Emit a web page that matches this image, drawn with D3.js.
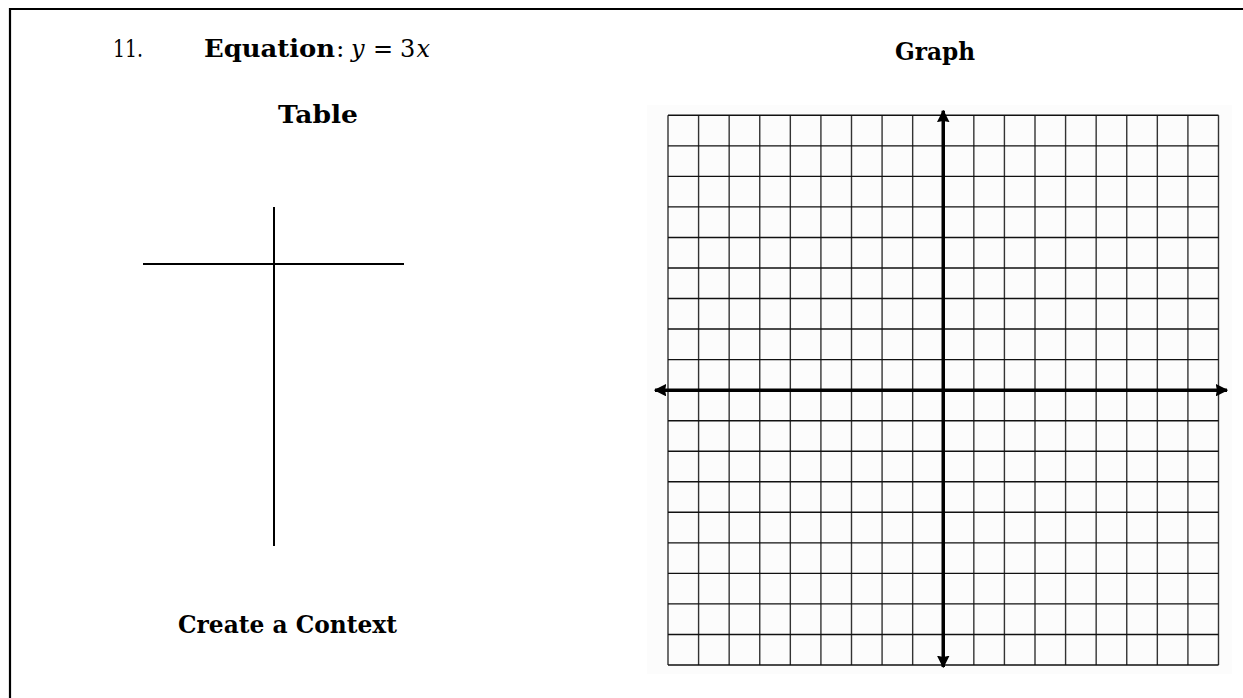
<!DOCTYPE html>
<html>
<head>
<meta charset="utf-8">
<script src="https://cdn.jsdelivr.net/npm/d3@7"></script>
<style>
  html, body { margin: 0; padding: 0; background: #fff; }
  svg { display: block; }
</style>
</head>
<body>
<svg id="chart" width="1243" height="698"></svg>
<script>
// ---- data ----
const problemNumber = "11.";
const headingEquation = "Equation";
const equationParts = [
  { t: "y", italic: true,  x: 351 },
  { t: "=", italic: false, x: 373 },
  { t: "3", italic: false, x: 400 },
  { t: "x", italic: true,  x: 416.5 }
];
const headingTable = "Table";
const headingGraph = "Graph";
const headingContext = "Create a Context";
const gridTicks = d3.range(-9, 10);      // grid lines from -9 to 9
const axisDomain = [-9, 9];

const svg = d3.select("#chart");
const serif = "'DejaVu Serif', 'Liberation Serif', serif";

// page frame (left + top rule)
svg.append("line").attr("x1", 10).attr("y1", 9).attr("x2", 1243).attr("y2", 9)
  .attr("stroke", "#000").attr("stroke-width", 2.2);
svg.append("line").attr("x1", 10).attr("y1", 8).attr("x2", 10).attr("y2", 698)
  .attr("stroke", "#000").attr("stroke-width", 2.2);

// ---- heading texts ----
svg.append("text").attr("x", 113).attr("y", 57)
  .attr("font-family", serif).attr("font-size", 25)
  .attr("textLength", 30).attr("lengthAdjust", "spacingAndGlyphs")
  .text(problemNumber);

svg.append("text").attr("x", 204).attr("y", 57)
  .attr("font-family", serif).attr("font-size", 25).attr("font-weight", "bold")
  .attr("textLength", 131).attr("lengthAdjust", "spacingAndGlyphs")
  .text(headingEquation);
svg.append("text").attr("x", 336).attr("y", 57)
  .attr("font-family", serif).attr("font-size", 25)
  .text(":");

svg.selectAll("text.eq").data(equationParts).join("text").attr("class", "eq")
  .attr("x", d => d.x).attr("y", 57)
  .attr("font-family", serif).attr("font-size", 24)
  .attr("font-style", d => d.italic ? "italic" : "normal")
  .text(d => d.t);

svg.append("text").attr("x", 278).attr("y", 123)
  .attr("font-family", serif).attr("font-size", 25).attr("font-weight", "bold")
  .attr("textLength", 80).attr("lengthAdjust", "spacingAndGlyphs")
  .text(headingTable);

svg.append("text").attr("x", 895).attr("y", 60)
  .attr("font-family", serif).attr("font-size", 25).attr("font-weight", "bold")
  .attr("textLength", 80).attr("lengthAdjust", "spacingAndGlyphs")
  .text(headingGraph);

svg.append("text").attr("x", 178).attr("y", 633)
  .attr("font-family", serif).attr("font-size", 25).attr("font-weight", "bold")
  .attr("textLength", 219).attr("lengthAdjust", "spacingAndGlyphs")
  .text(headingContext);

// ---- T-table ----
svg.append("line").attr("x1", 274).attr("y1", 207).attr("x2", 274).attr("y2", 546)
  .attr("stroke", "#000").attr("stroke-width", 2);
svg.append("line").attr("x1", 143).attr("y1", 264).attr("x2", 404).attr("y2", 264)
  .attr("stroke", "#000").attr("stroke-width", 2);

// ---- coordinate grid ----
const x = d3.scaleLinear().domain(axisDomain).range([668, 1218.5]);
const y = d3.scaleLinear().domain(axisDomain).range([665, 115.3]);

svg.append("rect").attr("x", 647).attr("y", 105).attr("width", 585).attr("height", 569)
  .attr("fill", "#fcfcfc");

const g = svg.append("g");
g.selectAll("line.v").data(gridTicks).join("line").attr("class", "v")
  .attr("x1", d => x(d)).attr("x2", d => x(d))
  .attr("y1", y(axisDomain[1])).attr("y2", y(axisDomain[0]))
  .attr("stroke", "#333").attr("stroke-width", 1.4);
g.selectAll("line.h").data(gridTicks).join("line").attr("class", "h")
  .attr("y1", d => y(d)).attr("y2", d => y(d))
  .attr("x1", x(axisDomain[0])).attr("x2", x(axisDomain[1]))
  .attr("stroke", "#111").attr("stroke-width", 1.4);

// axes with arrows
const defs = svg.append("defs");
defs.append("marker").attr("id", "arrow")
  .attr("viewBox", "0 0 10 10").attr("refX", 9).attr("refY", 5)
  .attr("markerWidth", 3.6).attr("markerHeight", 3.6)
  .attr("markerUnits", "strokeWidth")
  .attr("orient", "auto-start-reverse")
  .append("path").attr("d", "M0,0 L10,5 L0,10 L1,5 Z").attr("fill", "#000");

svg.append("line")
  .attr("x1", x(-9) - 13).attr("x2", x(9) + 8.5)
  .attr("y1", y(0)).attr("y2", y(0))
  .attr("stroke", "#000").attr("stroke-width", 3.5)
  .attr("marker-start", "url(#arrow)").attr("marker-end", "url(#arrow)");
svg.append("line")
  .attr("x1", x(0)).attr("x2", x(0))
  .attr("y1", y(9) - 4.5).attr("y2", y(-9) + 2)
  .attr("stroke", "#000").attr("stroke-width", 3.5)
  .attr("marker-start", "url(#arrow)").attr("marker-end", "url(#arrow)");
</script>
</body>
</html>
